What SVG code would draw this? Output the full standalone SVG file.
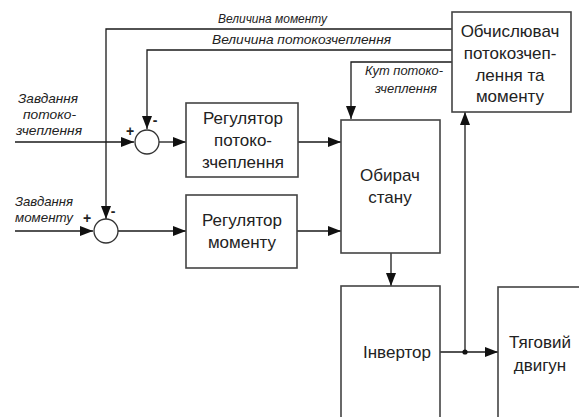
<svg xmlns="http://www.w3.org/2000/svg" width="579" height="417" viewBox="0 0 579 417">
  <style>
    .box { fill: #fff; stroke: #444; stroke-width: 1.6; }
    .sum { fill: #fff; stroke: #333; stroke-width: 1.3; }
    .wire { fill: none; stroke: #1a1a1a; stroke-width: 1.3; }
    .lbl { font-family: "Liberation Sans", Arial, sans-serif; font-size: 17px; fill: #222; text-anchor: middle; }
    .sig { font-family: "Liberation Sans", Arial, sans-serif; font-size: 13px; font-style: italic; fill: #222; }
    .sign { font-family: "Liberation Sans", Arial, sans-serif; font-size: 14px; font-weight: bold; fill: #222; text-anchor: middle; }
  </style>
  <defs>
    <marker id="arrow" markerUnits="userSpaceOnUse" markerWidth="14" markerHeight="10" refX="13" refY="5" orient="auto">
      <path d="M0,0 L13,5 L0,10 Z" fill="#111"/>
    </marker>
  </defs>

  <rect width="579" height="417" fill="#fff"/>

  <g id="connectors">
    <!-- feedback: torque magnitude -->
    <path class="wire" d="M452,29 H106 V219" marker-end="url(#arrow)"/>
    <!-- feedback: flux magnitude -->
    <path class="wire" d="M452,50 H147 V129" marker-end="url(#arrow)"/>
    <!-- flux angle -->
    <path class="wire" d="M452,62 H351 V119" marker-end="url(#arrow)"/>
    <!-- references into summing junctions -->
    <path class="wire" d="M15,142 H134" marker-end="url(#arrow)"/>
    <path class="wire" d="M15,231 H93" marker-end="url(#arrow)"/>
    <!-- errors into controllers -->
    <path class="wire" d="M159,142 H186" marker-end="url(#arrow)"/>
    <path class="wire" d="M118,231 H186" marker-end="url(#arrow)"/>
    <!-- controllers into state selector -->
    <path class="wire" d="M298,142 H341" marker-end="url(#arrow)"/>
    <path class="wire" d="M297,231 H341" marker-end="url(#arrow)"/>
    <!-- selector to inverter -->
    <path class="wire" d="M391,253 V286" marker-end="url(#arrow)"/>
    <!-- inverter to motor -->
    <path class="wire" d="M440,352 H498" marker-end="url(#arrow)"/>
    <!-- measurement tap to estimator -->
    <path class="wire" d="M465,352 V112" marker-end="url(#arrow)"/>
    <circle cx="465" cy="352" r="2.6" fill="#111"/>
  </g>

  <g id="signal-labels">
    <text class="sig" x="218" y="23" textLength="109" lengthAdjust="spacingAndGlyphs">Величина моменту</text>
    <text class="sig" x="212" y="44" textLength="179" lengthAdjust="spacingAndGlyphs">Величина потокозчеплення</text>
    <text class="sig" x="365" y="75" textLength="78" lengthAdjust="spacingAndGlyphs">Кут потоко-</text>
    <text class="sig" x="375" y="93" textLength="62" lengthAdjust="spacingAndGlyphs">зчеплення</text>
    <text class="sig" x="18" y="103" textLength="60" lengthAdjust="spacingAndGlyphs">Завдання</text>
    <text class="sig" x="23" y="119" textLength="53" lengthAdjust="spacingAndGlyphs">потоко-</text>
    <text class="sig" x="16" y="135" textLength="66" lengthAdjust="spacingAndGlyphs">зчеплення</text>
    <text class="sig" x="15" y="206" textLength="58" lengthAdjust="spacingAndGlyphs">Завдання</text>
    <text class="sig" x="15" y="222" textLength="58" lengthAdjust="spacingAndGlyphs">моменту</text>
  </g>

  <g id="sum-flux">
    <circle class="sum" cx="147" cy="142" r="12"/>
    <text class="sign" x="130" y="136">+</text>
    <text class="sign" x="155" y="125">-</text>
  </g>

  <g id="sum-torque">
    <circle class="sum" cx="106" cy="231" r="12"/>
    <text class="sign" x="87" y="223">+</text>
    <text class="sign" x="113" y="216">-</text>
  </g>

  <g id="flux-controller">
    <rect class="box" x="186" y="103" width="112" height="74"/>
    <text class="lbl" x="243" y="124">Регулятор</text>
    <text class="lbl" x="243" y="146">потоко-</text>
    <text class="lbl" x="243" y="168">зчеплення</text>
  </g>

  <g id="torque-controller">
    <rect class="box" x="186" y="195" width="111" height="73"/>
    <text class="lbl" x="242" y="226">Регулятор</text>
    <text class="lbl" x="242" y="248">моменту</text>
  </g>

  <g id="state-selector">
    <rect class="box" x="341" y="120" width="99" height="133"/>
    <text class="lbl" x="390" y="181">Обирач</text>
    <text class="lbl" x="390" y="203">стану</text>
  </g>

  <g id="estimator">
    <rect class="box" x="452" y="12" width="119" height="100"/>
    <text class="lbl" x="510" y="37">Обчислювач</text>
    <text class="lbl" x="510" y="59">потокозчеп-</text>
    <text class="lbl" x="510" y="81">лення та</text>
    <text class="lbl" x="510" y="102">моменту</text>
  </g>

  <g id="inverter">
    <rect class="box" x="341" y="286" width="99" height="140"/>
    <text class="lbl" x="397" y="358">Інвертор</text>
  </g>

  <g id="traction-motor">
    <rect class="box" x="498" y="287" width="84" height="140"/>
    <text class="lbl" x="540" y="348">Тяговий</text>
    <text class="lbl" x="540" y="371">двигун</text>
  </g>
</svg>
